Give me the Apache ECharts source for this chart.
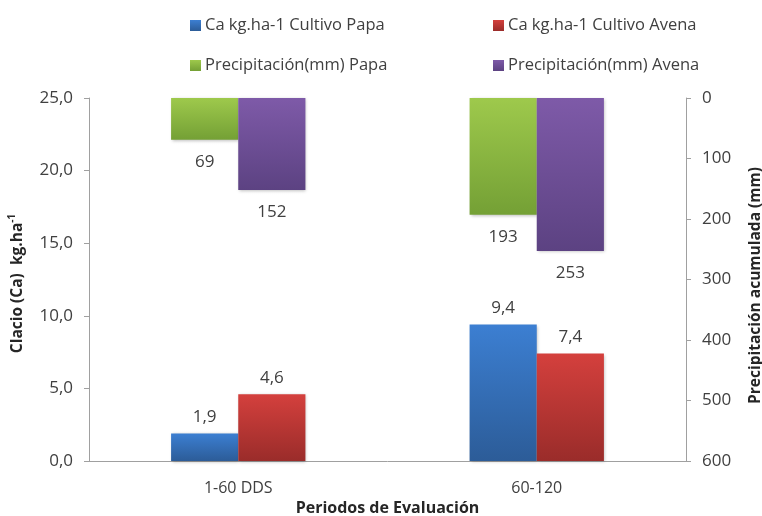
<!DOCTYPE html>
<html>
<head>
<meta charset="utf-8">
<script src="https://cdn.jsdelivr.net/npm/echarts@6/dist/echarts.min.js"></script>
<style>
  html, body { margin: 0; padding: 0; background: #ffffff; }
  #chart { width: 762px; height: 516px; }
</style>
</head>
<body>
<div id="chart"></div>
<script>
// Evaluation periods
const periods = ['1-60 DDS', '60-120'];

// Calcium (kg/ha) per crop
const caPapa = [1.9, 9.4];
const caAvena = [4.6, 7.4];

// Accumulated precipitation (mm) per crop
const precipPapa = [69, 193];
const precipAvena = [152, 253];

// Series names
const names = [
  'Ca kg.ha-1 Cultivo Papa',
  'Ca kg.ha-1 Cultivo Avena',
  'Precipitación(mm) Papa',
  'Precipitación(mm) Avena'
];

const FONT = 'Open Sans';
const TEXT = '#404040';
const AXIS = '#a0a0a0';

function grad(top, bottom) {
  return new echarts.graphic.LinearGradient(0, 0, 0, 1, [
    { offset: 0, color: top },
    { offset: 1, color: bottom }
  ]);
}

const comma1 = v => v.toFixed(1).replace('.', ',');

function barSeries(name, data, xIdx, yIdx, top, bottom, legendColor, pos, fmt) {
  return {
    name: name,
    type: 'bar',
    xAxisIndex: xIdx,
    yAxisIndex: yIdx,
    data: data,
    barGap: '0%',
    barCategoryGap: '55%',
    color: legendColor,
    itemStyle: {
      color: grad(top, bottom),
      shadowBlur: 3,
      shadowColor: 'rgba(0,0,0,0.25)',
      shadowOffsetX: 1,
      shadowOffsetY: 1
    },
    label: {
      show: true,
      position: pos,
      distance: pos === 'top' ? 8 : 14,
      color: TEXT,
      fontFamily: FONT,
      fontSize: 17,
      formatter: p => fmt(p.value)
    }
  };
}

function legendAt(name, left, top) {
  return {
    data: [name],
    left: left,
    top: top,
    icon: 'rect',
    itemWidth: 11,
    itemHeight: 11,
    padding: 0,
    selectedMode: false,
    textStyle: { color: TEXT, fontFamily: FONT, fontSize: 16.5, padding: [0, 0, 0, -1] }
  };
}

const chart = echarts.init(document.getElementById('chart'), null, { renderer: 'canvas' });

chart.setOption({
  backgroundColor: '#ffffff',
  animation: false,
  legend: [
    legendAt(names[0], 190, 17),
    legendAt(names[1], 493, 17),
    legendAt(names[2], 190, 57),
    legendAt(names[3], 493, 57)
  ],
  grid: { left: 89, right: 76, top: 98, bottom: 55, containLabel: false, outerBoundsMode: 'none' },
  xAxis: [
    {
      type: 'category',
      data: periods,
      axisLine: { lineStyle: { color: AXIS } },
      axisTick: { show: false },
      axisLabel: { color: TEXT, fontFamily: FONT, fontSize: 16, margin: 19 },
      name: 'Periodos de Evaluación',
      nameLocation: 'middle',
      nameGap: 39,
      nameTextStyle: { color: '#262626', fontFamily: FONT, fontSize: 16, fontWeight: 'bold' }
    },
    {
      type: 'category',
      data: periods,
      show: false
    }
  ],
  yAxis: [
    {
      type: 'value',
      min: 0,
      max: 25,
      interval: 5,
      position: 'left',
      splitLine: { show: false },
      axisLine: { show: true, lineStyle: { color: AXIS } },
      axisTick: { show: true, length: 5, lineStyle: { color: AXIS } },
      axisLabel: { color: TEXT, fontFamily: FONT, fontSize: 17, margin: 16, formatter: comma1 },
      name: '{a|Clacio (Ca)  kg.ha}{s|-1}',
      nameLocation: 'middle',
      nameRotate: 90,
      nameGap: 60,
      nameTextStyle: {
        padding: [0, 8, 0, 0],
        rich: {
          a: { color: '#262626', fontFamily: FONT, fontSize: 15.5, fontWeight: 'bold', lineHeight: 22 },
          s: { color: '#262626', fontFamily: FONT, fontSize: 10, fontWeight: 'bold', verticalAlign: 'top', lineHeight: 22 }
        }
      }
    },
    {
      type: 'value',
      min: 0,
      max: 600,
      interval: 100,
      inverse: true,
      position: 'right',
      splitLine: { show: false },
      axisLine: { show: true, lineStyle: { color: AXIS } },
      axisTick: { show: true, length: 5, lineStyle: { color: AXIS } },
      axisLabel: { color: TEXT, fontFamily: FONT, fontSize: 17, margin: 16 },
      name: 'Precipitación acumulada (mm)',
      nameLocation: 'middle',
      nameRotate: 90,
      nameGap: 62,
      nameTextStyle: { color: '#262626', fontFamily: FONT, fontSize: 15.5, fontWeight: 'bold', padding: [0, 12, 0, 0] }
    }
  ],
  series: [
    barSeries(names[0], caPapa, 0, 0, '#3c7fd2', '#2c5c98', '#3a75c0', 'top', comma1),
    barSeries(names[1], caAvena, 0, 0, '#d4403d', '#9a2c2a', '#c33a38', 'top', comma1),
    barSeries(names[2], precipPapa, 1, 1, '#9ec94c', '#74a035', '#8fba47', 'bottom', v => String(v)),
    barSeries(names[3], precipAvena, 1, 1, '#7e5aa8', '#5c4282', '#73539c', 'bottom', v => String(v))
  ]
});
</script>
</body>
</html>
